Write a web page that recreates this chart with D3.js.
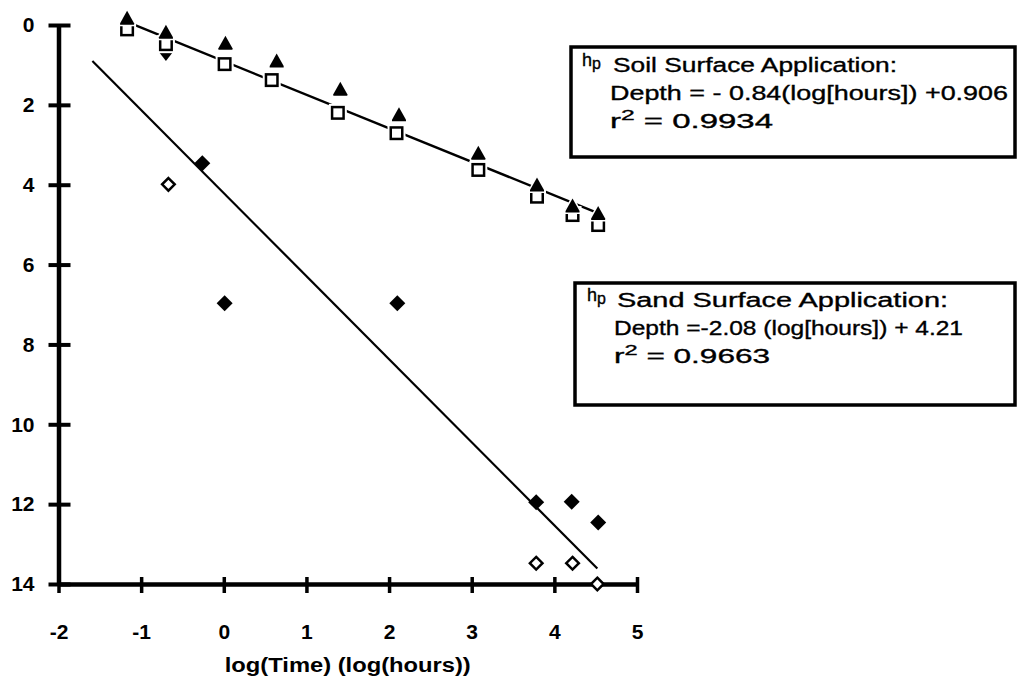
<!DOCTYPE html>
<html><head><meta charset="utf-8">
<script src="https://cdn.jsdelivr.net/npm/d3@7"></script>
<style>
html,body{margin:0;padding:0;background:#fff;}
svg{display:block;}
</style></head>
<body>
<svg id="chart" width="1021" height="694"></svg>
<script>
// Axis ticks
const xTicks = [-2, -1, 0, 1, 2, 3, 4, 5];
const yTicks = [0, 2, 4, 6, 8, 10, 12, 14];

// Soil surface application: filled triangles
const soilTriLogT  = [-1.17, -0.70, 0.02, 0.64, 1.41, 2.12, 3.08, 3.79, 4.22, 4.53];
const soilTriDepth = [-0.17, 0.18, 0.46, 0.90, 1.61, 2.25, 3.21, 4.01, 4.53, 4.72];
// Soil surface application: open squares
const soilSqLogT  = [-1.17, -0.70, 0.01, 0.58, 1.38, 2.09, 3.08, 3.79, 4.22, 4.53];
const soilSqDepth = [0.11, 0.48, 0.98, 1.38, 2.20, 2.71, 3.63, 4.30, 4.76, 5.01];
// Soil surface application: inverted triangle
const soilDownLogT  = [-0.70];
const soilDownDepth = [0.79];

// Sand surface application: filled diamonds
const sandFillLogT  = [-0.26, 0.01, 2.10, 3.78, 4.21, 4.53];
const sandFillDepth = [3.46, 6.97, 6.97, 11.95, 11.94, 12.46];
// Sand surface application: open diamonds
const sandOpenLogT  = [-0.67, 3.78, 4.22, 4.52];
const sandOpenDepth = [3.99, 13.48, 13.48, 14.0];

// Regression lines (depth plotted downward)
const soilFit = { slope: 0.84, intercept: 0.906, from: -1.17, to: 4.55 };
const sandFit = { slope: 2.08, intercept: 4.21, from: -1.59, to: 4.52 };

// Equation boxes
const soilLegend = ["Soil Surface Application:", "Depth = - 0.84(log[hours]) +0.906", "0.9934"];
const sandLegend = ["Sand Surface Application:", "Depth =-2.08 (log[hours]) + 4.21", "0.9663"];
const xTitle = "log(Time) (log(hours))";

const svg = d3.select("#chart");
const x = d3.scaleLinear().domain([-2, 5]).range([58.5, 637]);
const y = d3.scaleLinear().domain([0, 14]).range([25, 584]);

const labelFont = "'Liberation Sans', Arial, sans-serif";

// ---- axes ----
const yAxis = svg.append("g")
  .attr("transform", `translate(${x(-2)},0)`)
  .call(d3.axisLeft(y).tickValues(yTicks).tickSizeOuter(0).tickSize(0).tickPadding(24)
        .tickFormat(d => String(d)));
yAxis.select(".domain").attr("stroke", "#000").attr("stroke-width", 4.5);
yAxis.selectAll(".tick line").attr("x1", -10).attr("x2", 12).attr("stroke", "#000").attr("stroke-width", 4);
yAxis.selectAll(".tick text").attr("font-family", labelFont).attr("font-size", 21)
  .attr("font-weight", "bold").attr("fill", "#000");

const xAxis = svg.append("g")
  .attr("transform", `translate(0,${y(14)})`)
  .call(d3.axisBottom(x).tickValues(xTicks).tickSizeOuter(0).tickSize(0).tickPadding(40)
        .tickFormat(d => String(d)));
xAxis.select(".domain").attr("stroke", "#000").attr("stroke-width", 4.5);
xAxis.selectAll(".tick line").attr("y1", -7).attr("y2", 9).attr("stroke", "#000").attr("stroke-width", 3.5);
xAxis.selectAll(".tick text").attr("font-family", labelFont).attr("font-size", 21)
  .attr("font-weight", "bold").attr("fill", "#000");

svg.append("text")
  .attr("x", x(1.5)).attr("y", 672)
  .attr("text-anchor", "middle")
  .attr("font-family", labelFont).attr("font-size", 20).attr("font-weight", "bold")
  .attr("textLength", 246).attr("lengthAdjust", "spacingAndGlyphs")
  .text(xTitle);

// ---- regression lines ----
const line = d3.line().x(d => x(d[0])).y(d => y(d[1]));
function fitPoints(f) {
  return [[f.from, f.slope * f.from + f.intercept], [f.to, f.slope * f.to + f.intercept]];
}
svg.append("path").attr("d", line(fitPoints(sandFit)))
  .attr("fill", "none").attr("stroke", "#000").attr("stroke-width", 2.2);

// ---- sand markers ----
const diamond = r => `M0,${-r}L${r},0L0,${r}L${-r},0Z`;
svg.append("g").selectAll("path")
  .data(d3.zip(sandFillLogT, sandFillDepth)).join("path")
  .attr("transform", d => `translate(${x(d[0])},${y(d[1])})`)
  .attr("d", diamond(8)).attr("fill", "#000");
svg.append("g").selectAll("path")
  .data(d3.zip(sandOpenLogT, sandOpenDepth)).join("path")
  .attr("transform", d => `translate(${x(d[0])},${y(d[1])})`)
  .attr("d", diamond(6.3)).attr("fill", "#fff").attr("stroke", "#000").attr("stroke-width", 2.5);

// ---- soil line and markers ----
svg.append("path").attr("d", line(fitPoints(soilFit)))
  .attr("fill", "none").attr("stroke", "#000").attr("stroke-width", 2.4);

svg.append("g").selectAll("path")
  .data(d3.zip(soilDownLogT, soilDownDepth)).join("path")
  .attr("transform", d => `translate(${x(d[0])},${y(d[1])})`)
  .attr("d", "M-7,-4.5L7,-4.5L0,4.5Z").attr("fill", "#000");

const sq = svg.append("g").selectAll("g")
  .data(d3.zip(soilSqLogT, soilSqDepth)).join("g")
  .attr("transform", d => `translate(${x(d[0])},${y(d[1])})`);
sq.append("rect").attr("x", -9).attr("y", -9).attr("width", 18).attr("height", 18).attr("fill", "#fff");
sq.append("rect").attr("x", -5.75).attr("y", -5.75).attr("width", 11.5).attr("height", 11.5)
  .attr("fill", "#fff").attr("stroke", "#000").attr("stroke-width", 2.5);

svg.append("g").selectAll("path")
  .data(d3.zip(soilTriLogT, soilTriDepth)).join("path")
  .attr("transform", d => `translate(${x(d[0])},${y(d[1])})`)
  .attr("d", "M0,-7.5L7,5L7,6.5L-7,6.5L-7,5Z")
  .attr("fill", "#000").attr("stroke", "#fff").attr("stroke-width", 3)
  .attr("paint-order", "stroke");

// ---- equation boxes ----
function eqBox(bx, by, bw, bh, lines, base, widths, left) {
  const g = svg.append("g");
  g.append("rect").attr("x", bx).attr("y", by).attr("width", bw).attr("height", bh)
    .attr("fill", "#fff").attr("stroke", "#000").attr("stroke-width", 3.5);
  const t = g.append("g").attr("font-family", labelFont).attr("fill", "#000")
    .attr("stroke", "#000").attr("stroke-width", 0.35);
  const h = t.append("text").attr("x", left[0]).attr("y", base[0] - 6).attr("font-size", 18);
  h.append("tspan").text("h");
  h.append("tspan").attr("font-size", 16).attr("dy", 3).text("p");
  t.append("text").attr("x", left[1]).attr("y", base[0]).attr("font-size", 20)
    .attr("textLength", widths[0]).attr("lengthAdjust", "spacingAndGlyphs").text(lines[0]);
  t.append("text").attr("x", left[2]).attr("y", base[1]).attr("font-size", 20)
    .attr("textLength", widths[1]).attr("lengthAdjust", "spacingAndGlyphs").text(lines[1]);
  const r = t.append("text").attr("x", left[2]).attr("y", base[2]).attr("font-size", 20)
    .attr("textLength", widths[2]).attr("lengthAdjust", "spacingAndGlyphs");
  r.append("tspan").text("r");
  r.append("tspan").attr("font-size", 15).attr("dy", -8).text("2");
  r.append("tspan").attr("dy", 8).text(" = " + lines[2]);
}
eqBox(571, 47, 444, 110, soilLegend, [72, 100, 128], [284, 398, 163], [582, 613, 610]);
eqBox(575, 283, 440, 122, sandLegend, [307, 335, 363], [331, 349, 156], [587, 617, 614]);
</script>
</body></html>
